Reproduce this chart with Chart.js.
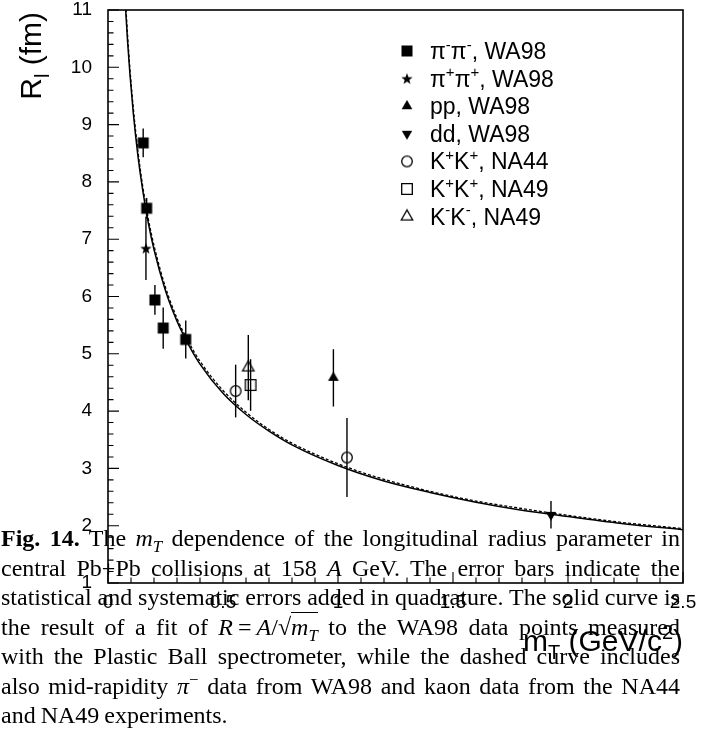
<!DOCTYPE html>
<html>
<head>
<meta charset="utf-8">
<script src="https://cdn.jsdelivr.net/npm/chart.js@4.4.1/dist/chart.umd.min.js"></script>
<style>
html, body { margin: 0; padding: 0; background: #fff; }
#wrap { position: relative; width: 703px; height: 729px; overflow: hidden; }
#cv { position: absolute; left: 0; top: 0; }
#caption { position: absolute; left: 1px; top: 524px; width: 679px; font-family: "Liberation Serif", "Times New Roman", serif; font-size: 24px; word-spacing: -1px; line-height: 29.5px; color: #000; }
#caption div { text-align: justify; text-align-last: justify; }
#caption div.last { text-align-last: left; }
#caption sub, #caption sup { font-size: 0.7em; line-height: 0; }
#caption .ov { border-top: 1px solid #000; padding-top: 1px; }
</style>
</head>
<body>
<div id="wrap">
  <canvas id="cv" width="703" height="729"></canvas>
  <div id="caption">
    <div><b>Fig. 14.</b> The <i>m<sub>T</sub></i> dependence of the longitudinal radius parameter in</div>
    <div>central Pb+Pb collisions at 158 <i>A</i> GeV. The error bars indicate the</div>
    <div>statistical and systematic errors added in quadrature. The solid curve is</div>
    <div>the result of a fit of <i>R</i><span style="margin:0 5px">=</span><i>A</i>/√<span class="ov"><i>m<sub>T</sub></i></span> to the WA98 data points measured</div>
    <div>with the Plastic Ball spectrometer, while the dashed curve includes</div>
    <div>also mid-rapidity <i>π</i><sup>−</sup> data from WA98 and kaon data from the NA44</div>
    <div class="last">and NA49 experiments.</div>
  </div>
</div>
<script>
const xTickVals = [0, 0.5, 1, 1.5, 2, 2.5];
const xTickLabels = ["0", "0.5", "1", "1.5", "2", "2.5"];
const yTickVals = [1, 2, 3, 4, 5, 6, 7, 8, 9, 10, 11];
const yTickLabels = ["1", "2", "3", "4", "5", "6", "7", "8", "9", "10", "11"];

const xTitle = "m_{T} (GeV/c^{2})";
const yTitle = "R_{l} (fm)";

// pi- pi-, WA98
const pimX = [0.153, 0.168, 0.204, 0.240, 0.338];
const pimY = [8.68, 7.54, 5.94, 5.45, 5.25];
const pimErr = [0.25, 0.18, 0.26, 0.36, 0.33];
// pi+ pi+, WA98
const pipX = [0.165];
const pipY = [6.84];
const pipErr = [0.55];
// pp, WA98
const ppX = [0.98];
const ppY = [4.58];
const ppErr = [0.5];
// dd, WA98
const ddX = [1.926];
const ddY = [2.19];
const ddErr = [0.24];
// K+K+, NA44
const kpNa44X = [0.555, 1.039];
const kpNa44Y = [4.35, 3.19];
const kpNa44Err = [0.46, 0.69];
// K+K+, NA49
const kpNa49X = [0.62];
const kpNa49Y = [4.455];
const kpNa49Err = [0.45];
// K-K-, NA49
const kmNa49X = [0.61];
const kmNa49Y = [4.76];
const kmNa49Err = [0.57];

// fit curves
const fitX = [0.077, 0.085, 0.095, 0.11, 0.13, 0.15, 0.175, 0.2, 0.25, 0.3, 0.35, 0.4, 0.5, 0.6, 0.7, 0.8, 1.0, 1.2, 1.4, 1.6, 1.8, 2.0, 2.25, 2.5];
const fitSolid = [10.99, 10.46, 9.90, 9.20, 8.46, 7.88, 7.29, 6.82, 6.10, 5.57, 5.16, 4.82, 4.31, 3.94, 3.65, 3.41, 3.05, 2.78, 2.58, 2.41, 2.27, 2.16, 2.03, 1.93];
const fitDashed = [11.10, 10.57, 9.99, 9.29, 8.54, 7.95, 7.36, 6.89, 6.16, 5.62, 5.21, 4.87, 4.36, 3.98, 3.68, 3.44, 3.08, 2.81, 2.60, 2.43, 2.30, 2.18, 2.05, 1.95];

const FONT = '"Liberation Sans", Arial, Helvetica, sans-serif';

function makeMarker(kind) {
  const s = 18, m = 9;
  const c = document.createElement("canvas");
  c.width = s; c.height = s;
  const g = c.getContext("2d");
  g.fillStyle = "#000"; g.strokeStyle = "#000"; g.lineWidth = 1.3;
  g.beginPath();
  if (kind === "sq") g.rect(m - 5.5, m - 5.5, 11, 11);
  else if (kind === "osq") g.rect(m - 5.3, m - 5.3, 10.6, 10.6);
  else if (kind === "ocirc") g.arc(m, m, 5.3, 0, 2 * Math.PI);
  else if (kind === "tri" || kind === "otri") {
    const r = kind === "tri" ? 6.2 : 6.6;
    g.moveTo(m, m - r); g.lineTo(m + r * 0.866, m + r * 0.5); g.lineTo(m - r * 0.866, m + r * 0.5); g.closePath();
  } else if (kind === "itri") {
    const r = 6;
    g.moveTo(m, m + r); g.lineTo(m + r * 0.866, m - r * 0.5); g.lineTo(m - r * 0.866, m - r * 0.5); g.closePath();
  } else if (kind === "star") {
    for (let k = 0; k < 10; k++) {
      const rr = k % 2 ? 2.4 : 6;
      const a = -Math.PI / 2 + k * Math.PI / 5;
      g.lineTo(m + rr * Math.cos(a), m + 0.5 + rr * Math.sin(a));
    }
    g.closePath();
  }
  if (kind.charAt(0) === "o") g.stroke(); else g.fill();
  return c;
}

const series = [
  { label: "π^{-}π^{-}, WA98", xs: pimX, ys: pimY, err: pimErr, marker: "sq" },
  { label: "π^{+}π^{+}, WA98", xs: pipX, ys: pipY, err: pipErr, marker: "star" },
  { label: "pp, WA98", xs: ppX, ys: ppY, err: ppErr, marker: "tri" },
  { label: "dd, WA98", xs: ddX, ys: ddY, err: ddErr, marker: "itri" },
  { label: "K^{+}K^{+}, NA44", xs: kpNa44X, ys: kpNa44Y, err: kpNa44Err, marker: "ocirc" },
  { label: "K^{+}K^{+}, NA49", xs: kpNa49X, ys: kpNa49Y, err: kpNa49Err, marker: "osq" },
  { label: "K^{-}K^{-}, NA49", xs: kmNa49X, ys: kmNa49Y, err: kmNa49Err, marker: "otri" },
];

const datasets = series.map(s => ({
  label: s.label,
  data: s.xs.map((v, i) => ({ x: v, y: s.ys[i] })),
  err: s.err,
  pointStyle: makeMarker(s.marker),
  pointRadius: 5,
  showLine: false,
  order: 1,
}));

datasets.push({
  label: "fit WA98 Plastic Ball",
  data: fitX.map((v, i) => ({ x: v, y: fitSolid[i] })),
  showLine: true, borderColor: "#000", borderWidth: 1.5, pointRadius: 0,
  cubicInterpolationMode: "monotone", order: 5,
});
datasets.push({
  label: "fit incl. NA44/NA49",
  data: fitX.map((v, i) => ({ x: v, y: fitDashed[i] })),
  showLine: true, borderColor: "#000", borderWidth: 1.3, borderDash: [3, 2], pointRadius: 0,
  cubicInterpolationMode: "monotone", order: 6,
});

// tiny markup: ^{..} superscript, _{..} subscript
function parseRich(s) {
  const out = [];
  let buf = "", i = 0;
  while (i < s.length) {
    const c = s[i];
    if ((c === "^" || c === "_") && s[i + 1] === "{") {
      if (buf) { out.push({ t: buf, m: 0 }); buf = ""; }
      const j = s.indexOf("}", i);
      out.push({ t: s.slice(i + 2, j), m: c === "^" ? 1 : -1 });
      i = j + 1;
    } else { buf += c; i++; }
  }
  if (buf) out.push({ t: buf, m: 0 });
  return out;
}
function segFont(seg, size) { return (seg.m ? Math.round(size * 0.65) : size) + "px " + FONT; }
function richWidth(ctx, segs, size) {
  let w = 0;
  segs.forEach(seg => { ctx.font = segFont(seg, size); w += ctx.measureText(seg.t).width; });
  return w;
}
function drawRich(ctx, segs, x, y, size) {
  ctx.textBaseline = "alphabetic";
  ctx.textAlign = "left";
  segs.forEach(seg => {
    ctx.font = segFont(seg, size);
    const dy = seg.m === 1 ? -size * 0.4 : seg.m === -1 ? size * 0.28 : 0;
    ctx.fillText(seg.t, x, y + dy);
    x += ctx.measureText(seg.t).width;
  });
}

const errorBars = {
  id: "errorBars",
  afterDatasetsDraw(chart) {
    const { ctx, scales: { x, y } } = chart;
    ctx.save();
    ctx.strokeStyle = "#000";
    ctx.lineWidth = 1.4;
    chart.data.datasets.forEach(ds => {
      if (!ds.err) return;
      ds.data.forEach((p, i) => {
        const px = x.getPixelForValue(p.x);
        ctx.beginPath();
        ctx.moveTo(px, y.getPixelForValue(p.y - ds.err[i]));
        ctx.lineTo(px, y.getPixelForValue(p.y + ds.err[i]));
        ctx.stroke();
      });
    });
    ctx.restore();
  },
};

const frameTicks = {
  id: "frameTicks",
  afterDraw(chart) {
    const { ctx, chartArea: a, scales: { x, y } } = chart;
    ctx.save();
    ctx.strokeStyle = "#000";
    ctx.lineWidth = 1.6;
    ctx.strokeRect(a.left, a.top, a.right - a.left, a.bottom - a.top);
    ctx.lineWidth = 1.1;
    ctx.beginPath();
    for (let k = 0; k <= 50; k++) {
      const py = y.getPixelForValue(1 + k * 0.2);
      const len = k % 5 === 0 ? 11 : 5.5;
      ctx.moveTo(a.left, py); ctx.lineTo(a.left + len, py);
    }
    for (let k = 0; k <= 25; k++) {
      const px = x.getPixelForValue(k * 0.1);
      const len = k % 5 === 0 ? 11 : 5.5;
      ctx.moveTo(px, a.bottom); ctx.lineTo(px, a.bottom - len);
    }
    ctx.stroke();
    ctx.restore();
  },
};

const legendAndTitles = {
  id: "legendAndTitles",
  afterDraw(chart) {
    const { ctx, chartArea: a } = chart;
    ctx.save();
    ctx.fillStyle = "#000";
    // legend
    chart.data.datasets.forEach((ds, i) => {
      if (!ds.err) return;
      const cy = 51 + i * 27.6;
      const img = ds.pointStyle;
      ctx.drawImage(img, 407 - img.width / 2, cy - img.height / 2);
      drawRich(ctx, parseRich(ds.label), 430, cy + 8, 23);
    });
    // x title, right aligned at the axis end
    const xs = parseRich(xTitle);
    drawRich(ctx, xs, a.right - richWidth(ctx, xs, 30), 651, 30);
    // y title, rotated, ending at the top of the axis
    const ys = parseRich(yTitle);
    const w = richWidth(ctx, ys, 30);
    ctx.translate(41, a.top + 2);
    ctx.rotate(-Math.PI / 2);
    drawRich(ctx, ys, -w, 0, 30);
    ctx.restore();
  },
};

new Chart(document.getElementById("cv"), {
  type: "scatter",
  data: { datasets },
  options: {
    responsive: false,
    animation: false,
    events: [],
    layout: { padding: { top: 10, right: 20, left: 0, bottom: 0 } },
    plugins: { legend: { display: false }, tooltip: { enabled: false } },
    scales: {
      x: {
        type: "linear", min: 0, max: 2.5,
        afterBuildTicks: s => { s.ticks = xTickVals.map(v => ({ value: v })); },
        afterFit: s => { s.height = 146; s.paddingLeft = 0; s.paddingRight = 0; },
        grid: { display: false, drawTicks: false },
        border: { display: false },
        ticks: {
          color: "#000", font: { family: FONT, size: 19, lineHeight: 1 }, padding: 10,
          maxRotation: 0, autoSkip: false,
          callback: (v, i) => xTickLabels[i],
        },
      },
      y: {
        type: "linear", min: 1, max: 11,
        afterBuildTicks: s => { s.ticks = yTickVals.map(v => ({ value: v })); },
        afterFit: s => { s.width = 108; s.paddingTop = 0; s.paddingBottom = 0; },
        grid: { display: false, drawTicks: false },
        border: { display: false },
        ticks: {
          color: "#000", font: { family: FONT, size: 19, lineHeight: 1 }, padding: 16,
          autoSkip: false,
          callback: (v, i) => yTickLabels[i],
        },
      },
    },
  },
  plugins: [errorBars, frameTicks, legendAndTitles],
});
</script>
</body>
</html>
